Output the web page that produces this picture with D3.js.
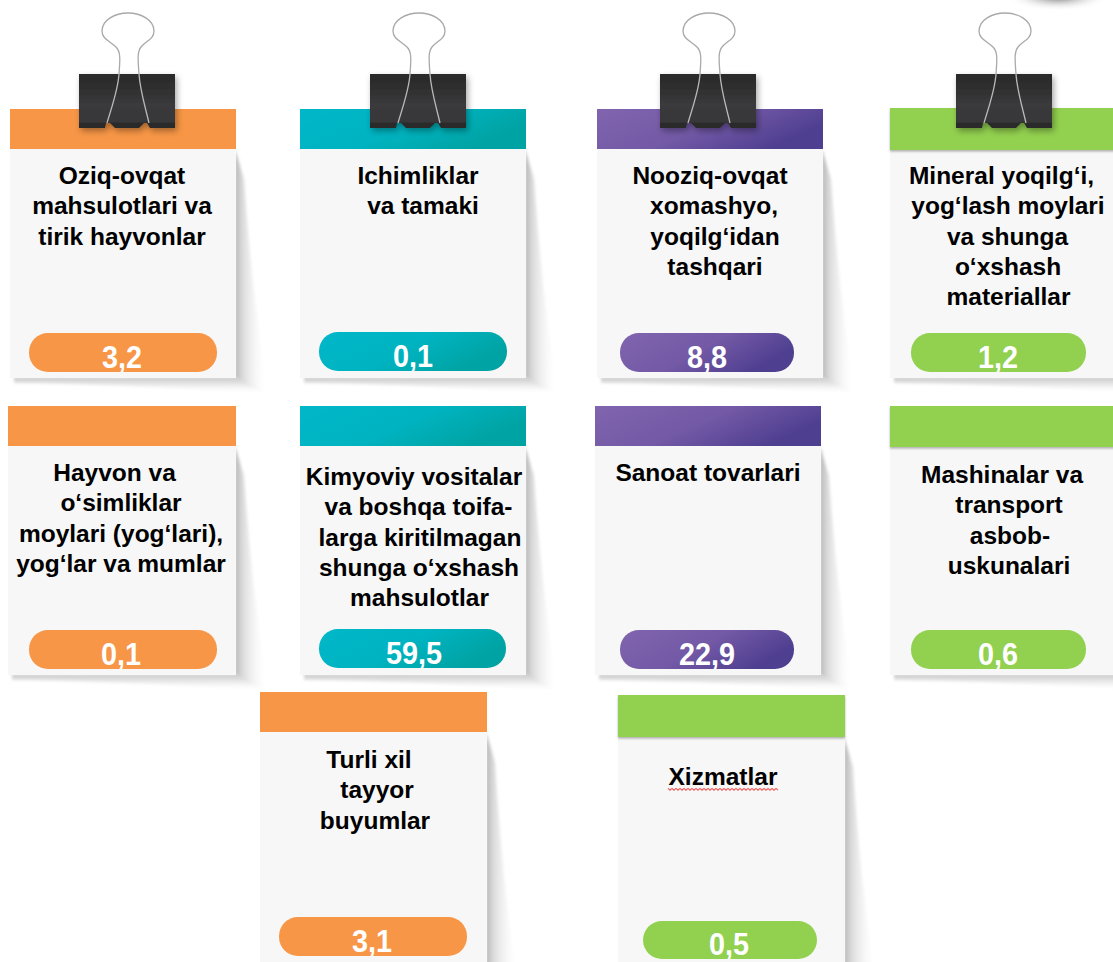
<!DOCTYPE html>
<html>
<head>
<meta charset="utf-8">
<script src="https://cdn.jsdelivr.net/npm/d3@7"></script>
<style>
html, body { margin: 0; padding: 0; background: #fff; overflow: hidden; }
svg { display: block; }
text { font-family: "Liberation Sans", Arial, sans-serif; font-weight: bold; }
</style>
</head>
<body>
<div id="vis"></div>
<script>
var categories = [
  ["Oziq-ovqat", "mahsulotlari va", "tirik hayvonlar"],
  ["Ichimliklar", "va tamaki"],
  ["Nooziq-ovqat", "xomashyo,", "yoqilg‘idan", "tashqari"],
  ["Mineral yoqilg‘i,", "yog‘lash moylari", "va shunga", "o‘xshash", "materiallar"],
  ["Hayvon va", "o‘simliklar", "moylari (yog‘lari),", "yog‘lar va mumlar"],
  ["Kimyoviy vositalar", "va boshqa toifa-", "larga kiritilmagan", "shunga o‘xshash", "mahsulotlar"],
  ["Sanoat tovarlari"],
  ["Mashinalar va", "transport", "asbob-", "uskunalari"],
  ["Turli xil", "tayyor", "buyumlar"],
  ["Xizmatlar"]
];
var values = ["3,2", "0,1", "8,8", "1,2", "0,1", "59,5", "22,9", "0,6", "3,1", "0,5"];

// layout only: x0 x1 top headBottom bottom pillX0 pillX1 pillTop pillBottom valueX textY
var boxes = [
  [10, 236, 109, 149, 378, 29, 217, 333, 372, 122, 184],
  [300, 526, 109, 149, 378, 319, 507, 332, 371, 413, 184],
  [597, 823, 109, 149, 378, 620, 794, 333, 372, 707, 184],
  [890, 1125, 108, 150, 378, 911, 1086, 333, 372, 998, 184],
  [8, 236, 406, 446, 675, 29, 217, 630, 669, 121, 481],
  [300, 526, 406, 446, 675, 319, 506, 629, 668, 414, 485],
  [595, 821, 406, 446, 675, 620, 794, 630, 669, 707, 481],
  [890, 1125, 406, 447, 675, 911, 1086, 630, 669, 998, 483],
  [260, 487, 692, 732, 975, 279, 467, 917, 956, 372, 768],
  [618, 845, 695, 737, 975, 643, 817, 921, 959, 729, 785]
];
// centre of each text line
var lineCentres = [
  [122, 122, 122],
  [418, 423],
  [710, 714, 715, 715],
  [1001.5, 1008, 1007.5, 1008, 1008.5],
  [114.5, 121, 121, 121],
  [414, 418.5, 420, 419, 419.5],
  [708],
  [1002, 1009, 1010, 1009],
  [369, 377, 375],
  [723]
];
var clipCentres = [128, 419, 709, 1005];
var palette = ["orange", "teal", "purple", "green", "orange", "teal", "purple", "green", "orange", "green"];

var w = 1113, h = 962;
var svg = d3.select("#vis").append("svg").attr("width", w).attr("height", h);
var defs = svg.append("defs");

function gradient(id, x2, y2, stops) {
  var g = defs.append("linearGradient").attr("id", id)
    .attr("x1", 0).attr("y1", 0).attr("x2", x2).attr("y2", y2);
  stops.forEach(function(s) {
    g.append("stop").attr("offset", s[0]).attr("stop-color", s[1]).attr("stop-opacity", s[2] === undefined ? 1 : s[2]);
  });
}
gradient("orange", 1, 0, [[0, "#f79646"], [1, "#f79646"]]);
gradient("green", 1, 0, [[0, "#92d050"], [1, "#92d050"]]);
gradient("teal", 1, 0.4, [[0, "#00b7c9"], [0.55, "#00b3c0"], [1, "#00a3a3"]]);
gradient("purple", 1, 0.4, [[0, "#8064ae"], [0.55, "#7359a6"], [1, "#4f3f90"]]);
gradient("sideShadow", 1, 0, [[0, "#b4b4b4"], [0.2, "#d8d8d8"], [1, "#ffffff", 0]]);
gradient("bottomShadow", 0, 1, [[0, "#c8c8c8"], [0.35, "#e2e2e2"], [1, "#ffffff", 0]]);
gradient("clipBody", 0, 1, [[0, "#2a2a2a"], [0.25, "#2e2e2e"], [0.55, "#3a3a3c"], [0.88, "#38383a"], [0.92, "#2a2a2a"], [1, "#2c2c2c"]]);

defs.append("filter").attr("id", "soft").append("feGaussianBlur").attr("stdDeviation", 1.5);
var clipShadow = defs.append("filter").attr("id", "clipShadow")
  .attr("x", "-20%").attr("y", "-20%").attr("width", "140%").attr("height", "150%");
clipShadow.append("feDropShadow").attr("dx", 2).attr("dy", 3).attr("stdDeviation", 3)
  .attr("flood-color", "#000").attr("flood-opacity", 0.35);
var headShadow = defs.append("filter").attr("id", "headShadow")
  .attr("x", "-5%").attr("y", "-10%").attr("width", "110%").attr("height", "130%");
headShadow.append("feDropShadow").attr("dx", 0).attr("dy", 1.5).attr("stdDeviation", 1.2)
  .attr("flood-color", "#000").attr("flood-opacity", 0.3);

// smudge of a shape cut off at the top right corner
var corner = defs.append("radialGradient").attr("id", "cornerShade");
corner.append("stop").attr("offset", 0).attr("stop-color", "#666");
corner.append("stop").attr("offset", 1).attr("stop-color", "#fff").attr("stop-opacity", 0);
svg.append("ellipse").attr("cx", 1058).attr("cy", -4).attr("rx", 52).attr("ry", 15).attr("fill", "url(#cornerShade)");

var cards = svg.selectAll("g.card")
  .data(d3.range(categories.length))
  .enter().append("g").attr("class", "card");

// shadows behind the paper
cards.append("path")
  .attr("fill", "url(#sideShadow)")
  .attr("filter", "url(#soft)")
  .attr("d", function(i) {
    var b = boxes[i];
    return "M" + (b[1] - 1) + "," + b[3] + "L" + (b[1] + 8) + "," + (b[3] + 30) +
      "Q" + (b[1] + 16) + "," + (b[4] - 80) + " " + (b[1] + 32) + "," + (b[4] + 14) +
      "L" + (b[1] - 1) + "," + b[4] + "Z";
  });
cards.append("path")
  .attr("fill", "url(#bottomShadow)")
  .attr("filter", "url(#soft)")
  .attr("d", function(i) {
    var b = boxes[i];
    return "M" + (b[0] + 4) + "," + (b[4] - 1) + "L" + (b[1] + 2) + "," + (b[4] - 1) +
      "L" + (b[1] + 34) + "," + (b[4] + 16) + "Q" + (b[0] + 110) + "," + (b[4] + 6) + " " + (b[0] + 4) + "," + (b[4] + 5) + "Z";
  });

// paper
cards.append("rect")
  .attr("x", function(i) { return boxes[i][0]; })
  .attr("y", function(i) { return boxes[i][3]; })
  .attr("width", function(i) { return boxes[i][1] - boxes[i][0]; })
  .attr("height", function(i) { return boxes[i][4] - boxes[i][3]; })
  .attr("fill", "#f7f7f7");

// coloured header
cards.append("rect")
  .attr("x", function(i) { return boxes[i][0]; })
  .attr("y", function(i) { return boxes[i][2]; })
  .attr("width", function(i) { return boxes[i][1] - boxes[i][0]; })
  .attr("height", function(i) { return boxes[i][3] - boxes[i][2]; })
  .attr("fill", function(i) { return "url(#" + palette[i] + ")"; })
  .attr("filter", function(i) { return palette[i] == "green" ? "url(#headShadow)" : null; });

// value pill
cards.append("clipPath").attr("id", function(i) { return "pill" + i; })
  .append("rect")
  .attr("x", function(i) { return boxes[i][5]; })
  .attr("y", function(i) { return boxes[i][7]; })
  .attr("width", function(i) { return boxes[i][6] - boxes[i][5]; })
  .attr("height", function(i) { return boxes[i][8] - boxes[i][7]; });
cards.append("rect")
  .attr("x", function(i) { return boxes[i][5]; })
  .attr("y", function(i) { return boxes[i][7]; })
  .attr("width", function(i) { return boxes[i][6] - boxes[i][5]; })
  .attr("height", function(i) { return boxes[i][8] - boxes[i][7]; })
  .attr("rx", 19)
  .attr("fill", function(i) { return "url(#" + palette[i] + ")"; });
cards.append("g")
  .attr("clip-path", function(i) { return "url(#pill" + i + ")"; })
  .append("text")
  .attr("transform", function(i) { return "translate(" + boxes[i][9] + "," + (boxes[i][8] - 4) + ") scale(0.9,1)"; })
  .attr("text-anchor", "middle")
  .attr("fill", "#fff")
  .style("font-size", "32px")
  .text(function(i) { return values[i]; });

// category lines
cards.each(function(i) {
  d3.select(this).selectAll("text.line")
    .data(categories[i])
    .enter().append("text")
    .attr("class", "line")
    .attr("x", function(d, k) { return lineCentres[i][k]; })
    .attr("y", function(d, k) { return boxes[i][10] + k * 30.3; })
    .attr("text-anchor", "middle")
    .attr("fill", "#000")
    .style("font-size", "24.5px")
    .text(function(d) { return d; });
});

// spell check squiggle under the last label
var squiggle = d3.line().curve(d3.curveLinear);
svg.append("path")
  .attr("d", squiggle(d3.range(668, 780, 2).map(function(x, k) { return [x, 789 + (k % 2 ? 1.2 : -0.6)]; })))
  .attr("fill", "none")
  .attr("stroke", "#f05a5a")
  .attr("stroke-width", 1.1);

// binder clips on the top row
var clips = svg.selectAll("g.clip")
  .data(clipCentres)
  .enter().append("g").attr("class", "clip")
  .attr("transform", function(d) { return "translate(" + d + ",0)"; });

clips.append("path")
  .attr("filter", "url(#clipShadow)")
  .attr("fill", "url(#clipBody)")
  .attr("d", "M-49,74H47V128H22L19,123H16L11,128H-13L-18,123H-22L-23,128H-49Z");

clips.append("path")
  .attr("fill", "none")
  .attr("stroke", "#a9a9a9")
  .attr("stroke-width", 1.3)
  .attr("d", "M-9,74C-8,60 -7,52 -12,47C-18,41 -26,39 -26,31C-26,20 -13,13 0,13C13,13 26,20 26,31C26,39 18,41 13,47C9,52 10,60 11,74");
clips.append("path")
  .attr("fill", "none")
  .attr("stroke", "#b9b9b9")
  .attr("stroke-width", 1.3)
  .attr("d", "M-9,74C-10,90 -16,106 -21,123M11,74C12,90 17,106 21,123");
</script>
</body>
</html>
